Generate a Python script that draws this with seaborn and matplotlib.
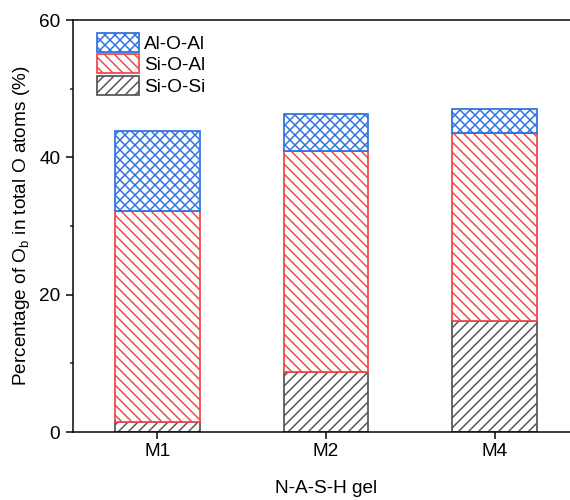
import matplotlib
matplotlib.use("Agg")
import matplotlib.pyplot as plt
import seaborn as sns
from matplotlib.ticker import MultipleLocator

samples = ["M1", "M2", "M4"]
si_o_si = [1.5, 8.7, 16.2]
si_o_al = [30.7, 32.2, 27.4]
al_o_al = [11.6, 5.4, 3.4]

layer_names = ["Si-O-Si", "Si-O-Al", "Al-O-Al"]
layer_colors = ["#555555", "#EE4649", "#2F72E0"]
layer_hatches = ["////", "\\\\\\\\", "xxxx"]

sns.set_style("ticks")
plt.rcParams["font.family"] = ["Liberation Sans", "DejaVu Sans"]
plt.rcParams["mathtext.fontset"] = "custom"
plt.rcParams["mathtext.rm"] = "Liberation Sans"
plt.rcParams["hatch.linewidth"] = 0.9
plt.rcParams["text.color"] = "black"
plt.rcParams["axes.labelcolor"] = "black"

DPI = 120
fig = plt.figure(figsize=(570 / DPI, 500 / DPI), dpi=DPI)
ax = fig.add_axes([73 / 570, 68 / 500, 506 / 570, 412 / 500])

bottom = [0.0, 0.0, 0.0]
handles = []
for name, vals, col, hat in zip(layer_names, [si_o_si, si_o_al, al_o_al],
                                layer_colors, layer_hatches):
    n_before = len(ax.patches)
    sns.barplot(x=samples, y=vals, order=samples, bottom=bottom, width=0.5,
                color="white", edgecolor=col, linewidth=1.05, saturation=1,
                ax=ax)
    for p in ax.patches[n_before:]:
        p.set_hatch(hat)
        p.set_edgecolor(col)
    handles.append(ax.patches[n_before])
    bottom = [b + v for b, v in zip(bottom, vals)]

ax.set_xlim(-0.5, 2.5)
ax.set_ylim(0, 60)
ax.yaxis.set_major_locator(MultipleLocator(20))
ax.yaxis.set_minor_locator(MultipleLocator(10))

for side in ["left", "bottom", "top"]:
    ax.spines[side].set_linewidth(0.9)
    ax.spines[side].set_color("black")
ax.spines["right"].set_visible(False)

ax.tick_params(axis="both", which="major", direction="out", length=4.2,
               width=0.9, labelsize=11.4, colors="black")
ax.tick_params(axis="y", which="major", pad=3.4)
ax.tick_params(axis="x", which="major", pad=2.2)
ax.tick_params(axis="y", which="minor", direction="out", length=2.1, width=0.9)

ax.set_xlabel("N-A-S-H gel", fontsize=11.4, labelpad=12)
ax.set_ylabel("Percentage of O$_\\mathregular{b}$ in total O atoms (%)",
              fontsize=11.4, labelpad=4)

leg_handles = handles[::-1]
leg_labels = layer_names[::-1]
ax.legend(leg_handles, leg_labels, loc="upper left",
          bbox_to_anchor=(0.047, 0.968), borderaxespad=0, borderpad=0,
          frameon=False, fontsize=11.4, handlelength=2.2, handleheight=1.16,
          handletextpad=0.3, labelspacing=0.07)

fig.savefig("out.png", dpi=DPI)
